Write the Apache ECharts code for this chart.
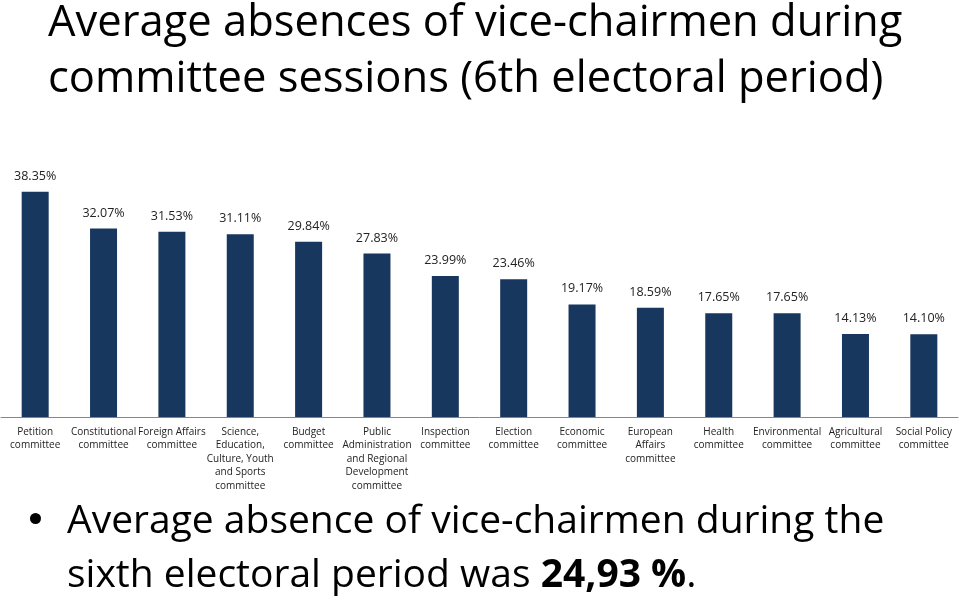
<!DOCTYPE html>
<html><head><meta charset="utf-8">
<script src="https://cdn.jsdelivr.net/npm/echarts@6/dist/echarts.min.js"></script>
<style>html,body{margin:0;padding:0;background:#fff}#c{width:960px;height:597px}</style>
</head><body><div id="c"></div>
<script>
const categories = [
  'Petition\ncommittee',
  'Constitutional\ncommittee',
  'Foreign Affairs\ncommittee',
  'Science,\nEducation,\nCulture, Youth\nand Sports\ncommittee',
  'Budget\ncommittee',
  'Public\nAdministration\nand Regional\nDevelopment\ncommittee',
  'Inspection\ncommittee',
  'Election\ncommittee',
  'Economic\ncommittee',
  'European\nAffairs\ncommittee',
  'Health\ncommittee',
  'Environmental\ncommittee',
  'Agricultural\ncommittee',
  'Social Policy\ncommittee'
];
const absences = [38.35, 32.07, 31.53, 31.11, 29.84, 27.83, 23.99, 23.46, 19.17, 18.59, 17.65, 17.65, 14.13, 14.10];
const titleText = 'Average absences of vice-chairmen during\ncommittee sessions (6th electoral period)';
const noteLine1 = 'Average absence of vice-chairmen during the';
const noteLine2a = 'sixth electoral period was ';
const noteBold = '24,93 %';
const noteEnd = '.';

const font = 'Open Sans';
const chart = echarts.init(document.getElementById('c'), null, {renderer: 'canvas'});
chart.setOption({
  animation: false,
  backgroundColor: '#fff',
  title: [{
    text: titleText,
    left: 43, top: -9,
    textStyle: {fontFamily: font, fontSize: 43.5, fontWeight: 'normal', color: '#000', lineHeight: 56}
  }],
  graphic: [
    {type: 'rect', shape: {cx: 0}, left: 30, top: 513, shape: {width: 11, height: 11, r: 5.5}, style: {fill: '#000'}},
    {type: 'text', left: 67, top: 495, style: {
      text: noteLine1 + '\n' + noteLine2a + '{b|' + noteBold + '}' + noteEnd,
      font: '39px "' + font + '"', fill: '#000', lineHeight: 54,
      rich: {b: {fontWeight: 'bold', fontSize: 39, fontFamily: font, fill: '#000'}}
    }}
  ],
  grid: {left: 1, right: 2, top: 182, bottom: 180, containLabel: false},
  xAxis: {
    type: 'category', data: categories,
    axisLine: {lineStyle: {color: '#868686', width: 1}},
    axisTick: {show: false},
    axisLabel: {interval: 0, fontFamily: font, fontSize: 10, color: '#222', lineHeight: 13.6, margin: 8}
  },
  yAxis: {type: 'value', min: 0, max: 40, show: false, splitLine: {show: false}},
  series: [{
    type: 'bar', data: absences, barWidth: 27,
    itemStyle: {color: '#17375E'},
    label: {show: true, position: 'top', distance: 9, fontFamily: font, fontSize: 12.5, color: '#222',
      formatter: p => p.value.toFixed(2) + '%'}
  }]
});
</script></body></html>
